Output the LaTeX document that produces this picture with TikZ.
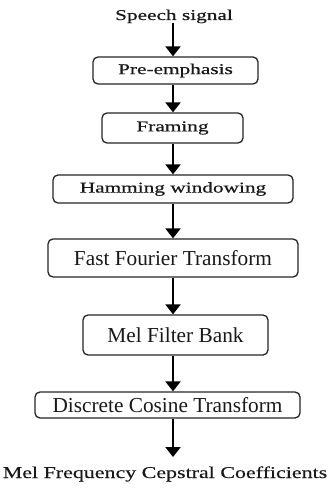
\documentclass[tikz,border=0pt]{standalone}
\usepackage{fontspec}
\setmainfont{Liberation Serif}
\newfontfamily\topfont[FakeStretch=1.42,FakeBold=0.6]{Liberation Serif}
\newfontfamily\endfont[FakeStretch=1.33,FakeBold=0.3]{Liberation Serif}
\usetikzlibrary{arrows.meta}
\begin{document}
\begin{tikzpicture}[x=1pt,y=-1pt,
  box/.style={draw=black!85, line width=1.3pt, rounded corners=5pt, inner sep=0pt, fill=white, text=black!90},
  small/.style={font=\topfont\fontsize{15}{15}\selectfont},
  big/.style={font=\fontsize{21.3}{21.3}\selectfont},
  arr/.style={draw=black, line width=2.2pt, -{Triangle[width=15pt,length=10pt]}, shorten >=0pt}]
\useasboundingbox (0,0) rectangle (330,489);
\fill[white] (0,0) rectangle (330,489);
\coordinate (ax) at (173,0);
\node[small, anchor=base, text=black!90] (sp) at (174,20) {Speech signal};
\node[box, small, minimum width=165pt, minimum height=27pt] (pre) at (175.5,70.5) {Pre-emphasis};
\node[box, small, minimum width=141pt, minimum height=30pt] (fr) at (172.5,128) {Framing};
\node[box, small, minimum width=240pt, minimum height=28pt] (ham) at (173,189) {Hamming windowing};
\node[box, big, minimum width=250pt, minimum height=38pt] (fft) at (173,258) {Fast Fourier Transform};
\node[box, big, minimum width=185pt, minimum height=40pt] (mel) at (175.5,335) {Mel Filter Bank};
\node[box, big, minimum width=265pt, minimum height=26pt] (dct) at (167.5,405) {Discrete Cosine Transform};
\node[font=\endfont\fontsize{16.5}{16.5}\selectfont, anchor=base, text=black!90] (mfcc) at (165,478) {Mel Frequency Cepstral Coefficients};
\coordinate (tip) at (173,457);
\draw[arr] (173,23) -- (pre.north -| ax);
\draw[arr] (pre.south -| ax) -- (fr.north -| ax);
\draw[arr] (fr.south -| ax) -- (ham.north -| ax);
\draw[arr] (ham.south -| ax) -- (fft.north -| ax);
\draw[arr] (fft.south -| ax) -- (mel.north -| ax);
\draw[arr] (mel.south -| ax) -- (dct.north -| ax);
\draw[arr] (dct.south -| ax) -- (tip);
\end{tikzpicture}
\end{document}
